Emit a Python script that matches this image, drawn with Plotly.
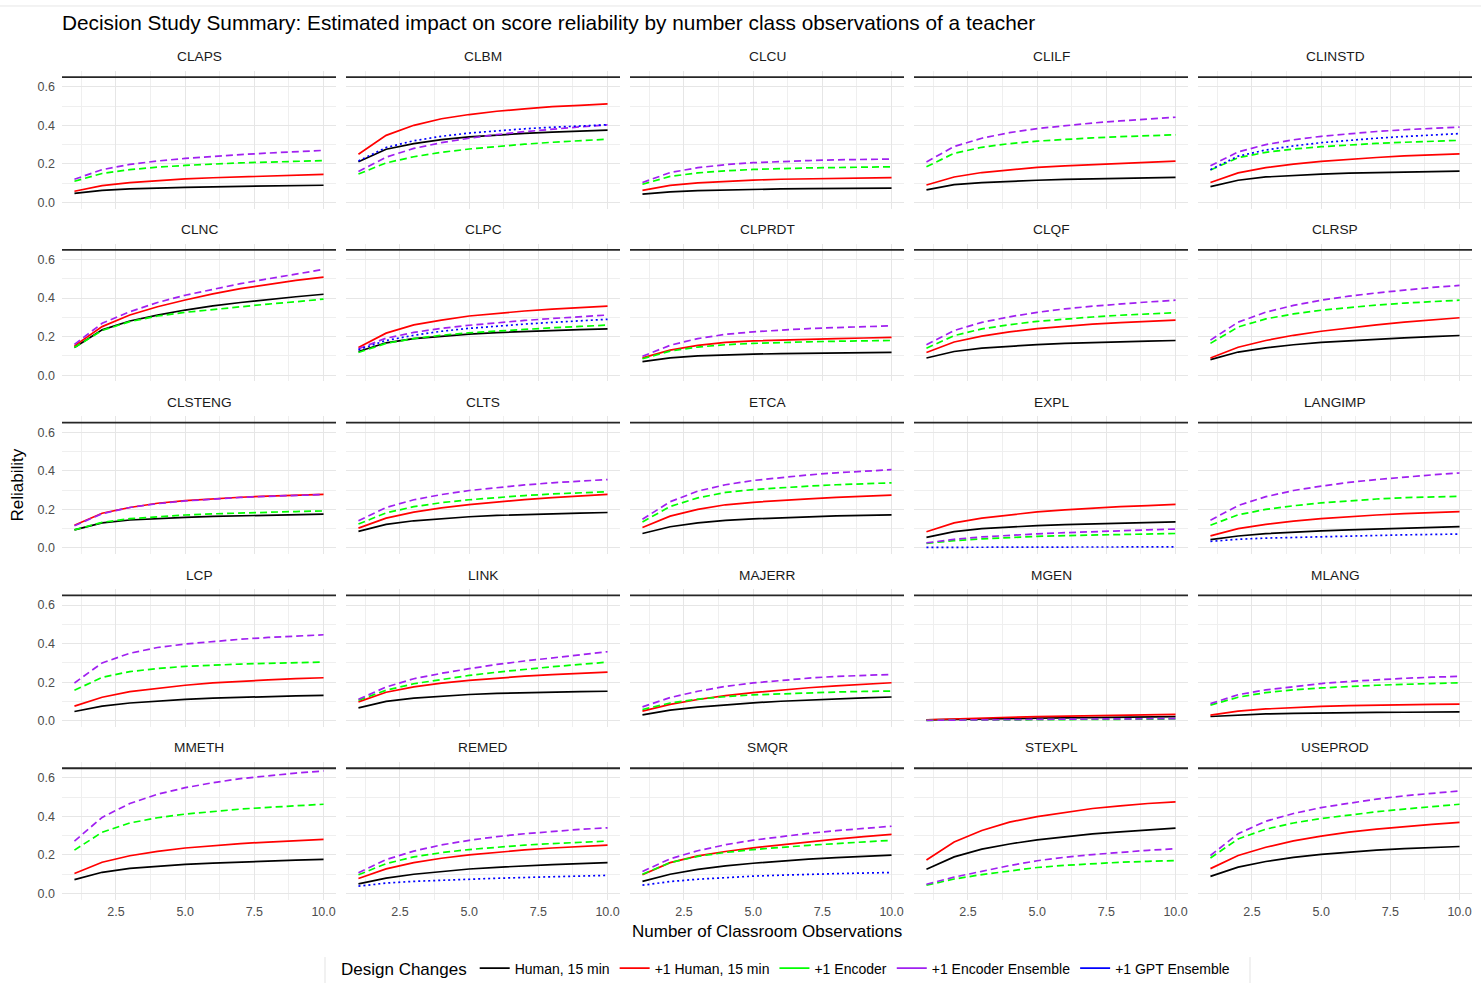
import plotly.graph_objects as go

# ---------------- data ----------------
observations = [1, 2, 3, 4, 5, 6, 7, 8, 9, 10]

panels = ["CLAPS", "CLBM", "CLCU", "CLILF", "CLINSTD",
          "CLNC", "CLPC", "CLPRDT", "CLQF", "CLRSP",
          "CLSTENG", "CLTS", "ETCA", "EXPL", "LANGIMP",
          "LCP", "LINK", "MAJERR", "MGEN", "MLANG",
          "MMETH", "REMED", "SMQR", "STEXPL", "USEPROD"]

series_names = ["Human, 15 min", "+1 Human, 15 min", "+1 Encoder",
                "+1 Encoder Ensemble", "+1 GPT Ensemble"]

human_15 = {
    "CLAPS": [0.047, 0.062, 0.070, 0.075, 0.078, 0.081, 0.083, 0.085, 0.087, 0.089],
    "CLBM": [0.211, 0.276, 0.305, 0.326, 0.340, 0.350, 0.358, 0.365, 0.370, 0.375],
    "CLCU": [0.043, 0.055, 0.061, 0.065, 0.068, 0.070, 0.071, 0.072, 0.073, 0.074],
    "CLILF": [0.065, 0.092, 0.103, 0.110, 0.115, 0.119, 0.122, 0.125, 0.128, 0.130],
    "CLINSTD": [0.082, 0.115, 0.132, 0.141, 0.147, 0.152, 0.155, 0.158, 0.160, 0.162],
    "CLNC": [0.144, 0.235, 0.281, 0.312, 0.338, 0.360, 0.377, 0.393, 0.407, 0.420],
    "CLPC": [0.123, 0.168, 0.190, 0.203, 0.213, 0.221, 0.227, 0.232, 0.236, 0.240],
    "CLPRDT": [0.070, 0.090, 0.100, 0.106, 0.109, 0.112, 0.114, 0.116, 0.117, 0.118],
    "CLQF": [0.089, 0.123, 0.140, 0.151, 0.159, 0.165, 0.170, 0.174, 0.177, 0.180],
    "CLRSP": [0.081, 0.120, 0.142, 0.158, 0.170, 0.179, 0.187, 0.194, 0.200, 0.206],
    "CLSTENG": [0.094, 0.130, 0.145, 0.153, 0.159, 0.164, 0.167, 0.170, 0.173, 0.175],
    "CLTS": [0.086, 0.122, 0.141, 0.153, 0.162, 0.169, 0.174, 0.178, 0.181, 0.184],
    "ETCA": [0.075, 0.110, 0.130, 0.143, 0.151, 0.157, 0.162, 0.166, 0.169, 0.172],
    "EXPL": [0.055, 0.085, 0.100, 0.109, 0.116, 0.121, 0.125, 0.129, 0.132, 0.135],
    "LANGIMP": [0.043, 0.062, 0.074, 0.082, 0.089, 0.094, 0.099, 0.103, 0.107, 0.111],
    "LCP": [0.048, 0.076, 0.092, 0.103, 0.111, 0.117, 0.122, 0.126, 0.129, 0.132],
    "LINK": [0.067, 0.100, 0.117, 0.128, 0.136, 0.142, 0.146, 0.149, 0.151, 0.153],
    "MAJERR": [0.030, 0.055, 0.071, 0.083, 0.093, 0.101, 0.108, 0.114, 0.119, 0.123],
    "MGEN": [0.004, 0.007, 0.009, 0.011, 0.013, 0.015, 0.017, 0.018, 0.020, 0.021],
    "MLANG": [0.022, 0.030, 0.035, 0.038, 0.041, 0.042, 0.043, 0.044, 0.045, 0.046],
    "MMETH": [0.072, 0.110, 0.130, 0.142, 0.151, 0.158, 0.164, 0.169, 0.173, 0.177],
    "REMED": [0.050, 0.080, 0.100, 0.115, 0.127, 0.136, 0.144, 0.150, 0.155, 0.160],
    "SMQR": [0.063, 0.100, 0.125, 0.143, 0.157, 0.168, 0.178, 0.186, 0.193, 0.199],
    "STEXPL": [0.126, 0.190, 0.230, 0.257, 0.278, 0.295, 0.309, 0.320, 0.330, 0.339],
    "USEPROD": [0.089, 0.137, 0.166, 0.187, 0.203, 0.215, 0.225, 0.233, 0.239, 0.244],
}

plus_human_15 = {
    "CLAPS": [0.058, 0.087, 0.103, 0.114, 0.122, 0.128, 0.133, 0.137, 0.141, 0.145],
    "CLBM": [0.250, 0.348, 0.400, 0.434, 0.456, 0.473, 0.485, 0.497, 0.504, 0.511],
    "CLCU": [0.062, 0.088, 0.101, 0.110, 0.116, 0.120, 0.123, 0.125, 0.127, 0.129],
    "CLILF": [0.090, 0.132, 0.155, 0.170, 0.182, 0.190, 0.197, 0.203, 0.209, 0.214],
    "CLINSTD": [0.103, 0.153, 0.180, 0.199, 0.213, 0.224, 0.233, 0.241, 0.247, 0.252],
    "CLNC": [0.152, 0.252, 0.312, 0.355, 0.390, 0.422, 0.449, 0.472, 0.492, 0.509],
    "CLPC": [0.144, 0.218, 0.261, 0.286, 0.307, 0.321, 0.333, 0.343, 0.350, 0.358],
    "CLPRDT": [0.090, 0.130, 0.155, 0.170, 0.178, 0.183, 0.187, 0.190, 0.193, 0.196],
    "CLQF": [0.118, 0.172, 0.203, 0.225, 0.242, 0.255, 0.265, 0.273, 0.280, 0.286],
    "CLRSP": [0.089, 0.145, 0.180, 0.207, 0.228, 0.246, 0.261, 0.275, 0.287, 0.298],
    "CLSTENG": [0.118, 0.180, 0.210, 0.232, 0.246, 0.256, 0.263, 0.269, 0.274, 0.278],
    "CLTS": [0.103, 0.155, 0.186, 0.208, 0.225, 0.239, 0.251, 0.261, 0.270, 0.278],
    "ETCA": [0.106, 0.165, 0.200, 0.224, 0.237, 0.247, 0.255, 0.262, 0.268, 0.274],
    "EXPL": [0.084, 0.130, 0.155, 0.172, 0.187, 0.198, 0.207, 0.214, 0.220, 0.226],
    "LANGIMP": [0.063, 0.100, 0.122, 0.139, 0.152, 0.162, 0.171, 0.178, 0.184, 0.189],
    "LCP": [0.076, 0.122, 0.151, 0.169, 0.184, 0.196, 0.205, 0.212, 0.218, 0.223],
    "LINK": [0.098, 0.148, 0.176, 0.195, 0.209, 0.221, 0.231, 0.239, 0.246, 0.252],
    "MAJERR": [0.050, 0.085, 0.110, 0.130, 0.146, 0.159, 0.171, 0.181, 0.190, 0.197],
    "MGEN": [0.005, 0.010, 0.014, 0.018, 0.021, 0.024, 0.027, 0.029, 0.031, 0.033],
    "MLANG": [0.029, 0.050, 0.061, 0.068, 0.074, 0.078, 0.081, 0.083, 0.085, 0.086],
    "MMETH": [0.104, 0.162, 0.196, 0.219, 0.236, 0.249, 0.259, 0.267, 0.275, 0.281],
    "REMED": [0.078, 0.128, 0.160, 0.183, 0.200, 0.214, 0.226, 0.236, 0.244, 0.251],
    "SMQR": [0.097, 0.160, 0.195, 0.218, 0.237, 0.253, 0.267, 0.282, 0.295, 0.307],
    "STEXPL": [0.174, 0.267, 0.327, 0.370, 0.399, 0.421, 0.441, 0.455, 0.467, 0.475],
    "USEPROD": [0.129, 0.197, 0.240, 0.273, 0.298, 0.318, 0.334, 0.348, 0.359, 0.369],
}

plus_encoder = {
    "CLAPS": [0.110, 0.150, 0.170, 0.183, 0.192, 0.199, 0.205, 0.209, 0.213, 0.217],
    "CLBM": [0.147, 0.205, 0.237, 0.260, 0.277, 0.290, 0.302, 0.312, 0.320, 0.328],
    "CLCU": [0.094, 0.135, 0.153, 0.164, 0.171, 0.176, 0.179, 0.181, 0.183, 0.185],
    "CLILF": [0.185, 0.255, 0.286, 0.305, 0.318, 0.328, 0.335, 0.341, 0.346, 0.351],
    "CLINSTD": [0.168, 0.232, 0.260, 0.277, 0.289, 0.298, 0.306, 0.312, 0.317, 0.322],
    "CLNC": [0.144, 0.232, 0.278, 0.307, 0.326, 0.341, 0.357, 0.369, 0.381, 0.395],
    "CLPC": [0.118, 0.165, 0.190, 0.207, 0.220, 0.230, 0.238, 0.246, 0.253, 0.260],
    "CLPRDT": [0.085, 0.125, 0.146, 0.158, 0.165, 0.170, 0.173, 0.176, 0.178, 0.180],
    "CLQF": [0.140, 0.205, 0.240, 0.262, 0.279, 0.292, 0.302, 0.311, 0.318, 0.324],
    "CLRSP": [0.165, 0.250, 0.292, 0.318, 0.337, 0.352, 0.364, 0.374, 0.382, 0.389],
    "CLSTENG": [0.094, 0.133, 0.152, 0.163, 0.171, 0.177, 0.182, 0.186, 0.189, 0.192],
    "CLTS": [0.124, 0.182, 0.214, 0.235, 0.250, 0.262, 0.272, 0.280, 0.286, 0.292],
    "ETCA": [0.135, 0.215, 0.260, 0.288, 0.303, 0.313, 0.321, 0.328, 0.333, 0.338],
    "EXPL": [0.024, 0.038, 0.047, 0.054, 0.060, 0.064, 0.067, 0.070, 0.073, 0.075],
    "LANGIMP": [0.118, 0.172, 0.200, 0.219, 0.234, 0.245, 0.254, 0.261, 0.265, 0.268],
    "LCP": [0.158, 0.225, 0.255, 0.271, 0.282, 0.289, 0.294, 0.298, 0.301, 0.304],
    "LINK": [0.106, 0.158, 0.192, 0.215, 0.235, 0.252, 0.267, 0.280, 0.292, 0.304],
    "MAJERR": [0.058, 0.092, 0.112, 0.125, 0.134, 0.140, 0.145, 0.149, 0.152, 0.154],
    "MGEN": [0.002, 0.003, 0.004, 0.005, 0.006, 0.007, 0.007, 0.008, 0.008, 0.009],
    "MLANG": [0.081, 0.122, 0.146, 0.160, 0.170, 0.178, 0.184, 0.189, 0.193, 0.197],
    "MMETH": [0.225, 0.318, 0.366, 0.393, 0.412, 0.426, 0.438, 0.447, 0.456, 0.463],
    "REMED": [0.097, 0.155, 0.190, 0.212, 0.228, 0.241, 0.251, 0.259, 0.266, 0.272],
    "SMQR": [0.100, 0.160, 0.193, 0.213, 0.228, 0.240, 0.250, 0.259, 0.268, 0.276],
    "STEXPL": [0.043, 0.075, 0.098, 0.118, 0.135, 0.146, 0.155, 0.162, 0.167, 0.171],
    "USEPROD": [0.184, 0.283, 0.334, 0.366, 0.389, 0.408, 0.424, 0.438, 0.451, 0.463],
}

plus_encoder_ensemble = {
    "CLAPS": [0.120, 0.170, 0.197, 0.215, 0.228, 0.239, 0.248, 0.256, 0.263, 0.270],
    "CLBM": [0.160, 0.235, 0.280, 0.310, 0.333, 0.352, 0.367, 0.380, 0.392, 0.402],
    "CLCU": [0.103, 0.155, 0.180, 0.196, 0.206, 0.213, 0.217, 0.221, 0.223, 0.225],
    "CLILF": [0.210, 0.290, 0.333, 0.362, 0.383, 0.399, 0.412, 0.423, 0.433, 0.442],
    "CLINSTD": [0.190, 0.262, 0.300, 0.325, 0.343, 0.357, 0.368, 0.377, 0.385, 0.391],
    "CLNC": [0.160, 0.269, 0.329, 0.377, 0.415, 0.446, 0.475, 0.500, 0.525, 0.549],
    "CLPC": [0.137, 0.192, 0.222, 0.243, 0.259, 0.273, 0.284, 0.294, 0.303, 0.312],
    "CLPRDT": [0.098, 0.155, 0.190, 0.212, 0.225, 0.235, 0.242, 0.247, 0.252, 0.256],
    "CLQF": [0.158, 0.232, 0.274, 0.303, 0.326, 0.344, 0.358, 0.370, 0.380, 0.389],
    "CLRSP": [0.182, 0.275, 0.327, 0.362, 0.389, 0.410, 0.427, 0.442, 0.455, 0.466],
    "CLSTENG": [0.115, 0.178, 0.210, 0.230, 0.244, 0.254, 0.262, 0.268, 0.273, 0.277],
    "CLTS": [0.141, 0.210, 0.250, 0.277, 0.298, 0.314, 0.327, 0.338, 0.347, 0.355],
    "ETCA": [0.149, 0.240, 0.295, 0.328, 0.350, 0.366, 0.379, 0.390, 0.398, 0.406],
    "EXPL": [0.026, 0.045, 0.057, 0.066, 0.073, 0.079, 0.085, 0.089, 0.094, 0.098],
    "LANGIMP": [0.144, 0.220, 0.266, 0.298, 0.321, 0.340, 0.355, 0.368, 0.379, 0.389],
    "LCP": [0.196, 0.300, 0.350, 0.380, 0.398, 0.412, 0.423, 0.432, 0.440, 0.446],
    "LINK": [0.111, 0.175, 0.218, 0.246, 0.270, 0.292, 0.310, 0.327, 0.343, 0.358],
    "MAJERR": [0.072, 0.120, 0.153, 0.178, 0.196, 0.210, 0.221, 0.230, 0.236, 0.240],
    "MGEN": [0.002, 0.004, 0.005, 0.006, 0.007, 0.008, 0.009, 0.009, 0.010, 0.011],
    "MLANG": [0.089, 0.135, 0.160, 0.177, 0.193, 0.204, 0.213, 0.220, 0.226, 0.230],
    "MMETH": [0.272, 0.395, 0.467, 0.515, 0.549, 0.575, 0.596, 0.612, 0.625, 0.636],
    "REMED": [0.108, 0.176, 0.220, 0.252, 0.276, 0.295, 0.310, 0.323, 0.333, 0.341],
    "SMQR": [0.114, 0.180, 0.222, 0.253, 0.277, 0.296, 0.312, 0.326, 0.338, 0.349],
    "STEXPL": [0.048, 0.085, 0.115, 0.145, 0.170, 0.188, 0.202, 0.214, 0.224, 0.232],
    "USEPROD": [0.197, 0.310, 0.375, 0.415, 0.446, 0.470, 0.490, 0.507, 0.520, 0.532],
}

plus_gpt_ensemble = {
    "CLBM": [0.215, 0.285, 0.320, 0.343, 0.360, 0.372, 0.382, 0.390, 0.397, 0.403],
    "CLINSTD": [0.170, 0.240, 0.272, 0.293, 0.310, 0.323, 0.333, 0.342, 0.350, 0.357],
    "CLPC": [0.132, 0.180, 0.207, 0.228, 0.243, 0.255, 0.265, 0.274, 0.282, 0.290],
    "EXPL": [0.003, 0.004, 0.004, 0.005, 0.005, 0.005, 0.005, 0.005, 0.006, 0.006],
    "LANGIMP": [0.034, 0.045, 0.051, 0.055, 0.059, 0.062, 0.065, 0.068, 0.070, 0.072],
    "REMED": [0.038, 0.054, 0.063, 0.069, 0.074, 0.079, 0.083, 0.087, 0.091, 0.094],
    "SMQR": [0.043, 0.062, 0.074, 0.083, 0.090, 0.095, 0.100, 0.103, 0.106, 0.109],
}

x_tick_vals = [2.5, 5.0, 7.5, 10.0]
x_tick_text = ["2.5", "5.0", "7.5", "10.0"]
y_tick_vals = [0.0, 0.2, 0.4, 0.6]
y_tick_text = ["0.0", "0.2", "0.4", "0.6"]
reference_line = 0.65

# ---------------- styling ----------------
series_data = [human_15, plus_human_15, plus_encoder, plus_encoder_ensemble, plus_gpt_ensemble]
series_colors = ["#000000", "#FF0000", "#00FF00", "#A020F0", "#0000FF"]
series_dash = ["solid", "solid", "7px,4px", "7px,4px", "2px,3px"]
LW = 1.7

W, H = 1481, 986
FONT = "Liberation Sans, Arial, Helvetica, sans-serif"
col_left = [62 + 284 * c for c in range(5)]
panel_w = 274
row_top = [71.1 + 173.3 * r for r in range(5)]
panel_h = 138.2

fig = go.Figure()
layout = {}
shapes = []
annotations = []

for i, name in enumerate(panels):
    r, c = divmod(i, 5)
    k = i + 1
    xs = "" if k == 1 else str(k)
    x0 = col_left[c] / W
    x1 = (col_left[c] + panel_w) / W
    y1 = 1 - row_top[r] / H
    y0 = 1 - (row_top[r] + panel_h) / H
    layout["xaxis" + xs] = dict(
        domain=[x0, x1], anchor="y" + xs, range=[0.55, 10.45],
        tickvals=x_tick_vals, ticktext=x_tick_text,
        showticklabels=(r == 4), ticks="", showline=False, zeroline=False,
        showgrid=True, gridcolor="#E6E6E6", gridwidth=1.4,
        minor=dict(tickvals=[1.25, 3.75, 6.25, 8.75], showgrid=True,
                   gridcolor="#EFEFEF", gridwidth=0.9),
        tickfont=dict(family=FONT, size=12.5, color="#4D4D4D"),
        ticklabelstandoff=3, fixedrange=True,
    )
    layout["yaxis" + xs] = dict(
        domain=[y0, y1], anchor="x" + xs, range=[-0.0325, 0.6825],
        tickvals=y_tick_vals, ticktext=y_tick_text,
        showticklabels=(c == 0), ticks="", showline=False, zeroline=False,
        showgrid=True, gridcolor="#E6E6E6", gridwidth=1.4,
        minor=dict(tickvals=[0.1, 0.3, 0.5], showgrid=True,
                   gridcolor="#EFEFEF", gridwidth=0.9),
        tickfont=dict(family=FONT, size=12.5, color="#4D4D4D"),
        ticklabelstandoff=6, fixedrange=True,
    )
    # reference line at top of each panel
    shapes.append(dict(type="line", xref="x" + xs + " domain", x0=0, x1=1,
                       yref="y" + xs, y0=reference_line, y1=reference_line,
                       line=dict(color="#262626", width=1.8), layer="above"))
    # strip label
    annotations.append(dict(text=name, xref="paper", yref="paper",
                            x=(x0 + x1) / 2, y=1 - (57 + 173.3 * r) / H,
                            xanchor="center", yanchor="middle", showarrow=False,
                            font=dict(family=FONT, size=13.7, color="#1A1A1A")))
    for s, sname in enumerate(series_names):
        vals = series_data[s].get(name)
        if vals is None:
            continue
        fig.add_trace(go.Scatter(
            x=observations, y=vals, mode="lines", name=sname,
            legendgroup=sname, showlegend=False,
            line=dict(color=series_colors[s], width=LW, dash=series_dash[s]),
            xaxis="x" + xs, yaxis="y" + xs,
        ))

# legend entries (solid keys like the reference)
for s, sname in enumerate(series_names):
    fig.add_trace(go.Scatter(x=[None], y=[None], mode="lines", name=sname,
                             legendgroup=sname, showlegend=True,
                             line=dict(color=series_colors[s], width=LW),
                             xaxis="x", yaxis="y"))

annotations.append(dict(text="Reliability", xref="paper", yref="paper",
                        x=18 / W, y=1 - 487 / H, textangle=-90,
                        xanchor="center", yanchor="middle", showarrow=False,
                        font=dict(family=FONT, size=17, color="#000000")))
annotations.append(dict(text="Number of Classroom Observations", xref="paper", yref="paper",
                        x=767 / W, y=1 - 934 / H,
                        xanchor="center", yanchor="middle", showarrow=False,
                        font=dict(family=FONT, size=17, color="#000000")))

# faint frame lines seen in the reference
shapes.append(dict(type="line", xref="paper", yref="paper", x0=0, x1=1,
                   y0=1 - 6 / H, y1=1 - 6 / H, line=dict(color="#E6E6E6", width=1)))
for lx in (325, 1250):
    shapes.append(dict(type="line", xref="paper", yref="paper",
                       x0=lx / W, x1=lx / W, y0=0, y1=1 - 960 / H,
                       line=dict(color="#E3E3E3", width=1)))

fig.update_layout(
    **layout,
    width=W, height=H, autosize=False,
    margin=dict(l=0, r=0, t=0, b=0),
    paper_bgcolor="white", plot_bgcolor="white",
    title=dict(text="Decision Study Summary: Estimated impact on score reliability by number class observations of a teacher",
               x=62 / W, xanchor="left", xref="paper",
               y=1 - 23 / H, yanchor="middle", yref="paper",
               font=dict(family=FONT, size=20.8, color="#000000")),
    shapes=shapes, annotations=annotations,
    showlegend=True,
    legend=dict(orientation="h", x=787 / W, xanchor="center",
                y=1 - 972 / H, yanchor="middle",
                title=dict(text="Design Changes", side="left",
                           font=dict(family=FONT, size=17, color="#000000")),
                font=dict(family=FONT, size=14, color="#000000"),
                itemwidth=30, bgcolor="rgba(0,0,0,0)"),
    hovermode=False,
)

fig.write_html("out.html", config={"displayModeBar": False},
               post_script="document.body.style.margin='0';document.body.style.overflow='hidden';")
